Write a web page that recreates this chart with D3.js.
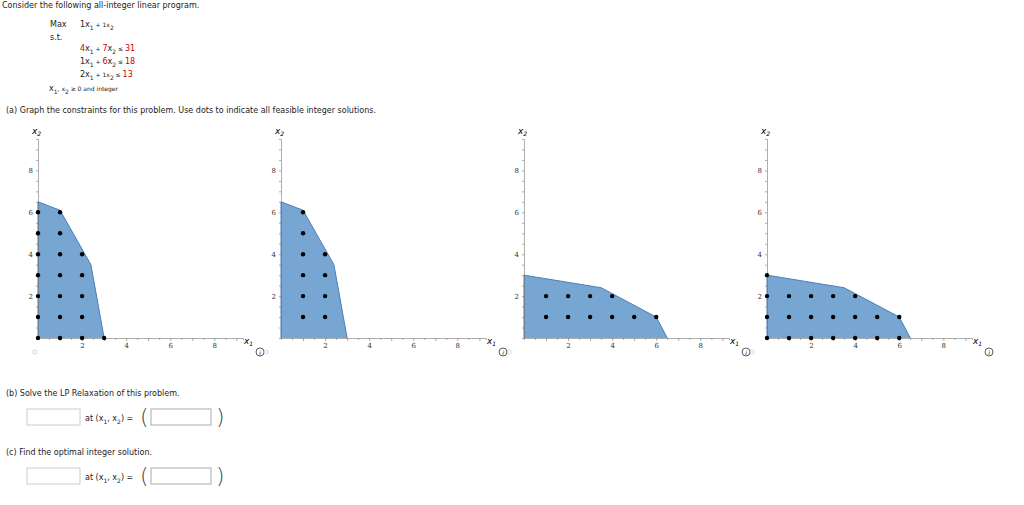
<!DOCTYPE html>
<html><head><meta charset="utf-8">
<script src="https://cdn.jsdelivr.net/npm/d3@7"></script>
<style>
body{margin:0;background:#fff;font-family:Verdana,"DejaVu Sans",sans-serif;}
svg text{font-family:"DejaVu Sans",Verdana,sans-serif;}
.tick text{font-family:"DejaVu Serif",serif;font-size:7px;fill:#333}
</style></head><body>
<svg id="c" width="1024" height="505"></svg>
<script>
// feasible regions (two shapes, drawn twice each)
const regionA = [[0,0],[0,6.5],[1,6.1],[2.4,3.5],[3,0]]
const regionB = [[0,0],[0,3],[3.5,2.4],[6,1],[6.5,0]]
const dots1 = [[0,0],[0,1],[0,2],[0,3],[0,4],[0,5],[0,6],[1,0],[1,1],[1,2],[1,3],[1,4],[1,5],[1,6],[2,0],[2,1],[2,2],[2,3],[2,4],[3,0]]
const dots2 = [[1,1],[1,2],[1,3],[1,4],[1,5],[1,6],[2,1],[2,2],[2,3],[2,4]]
const dots3 = [[1,1],[2,1],[3,1],[4,1],[5,1],[6,1],[1,2],[2,2],[3,2],[4,2]]
const dots4 = [[0,0],[1,0],[2,0],[3,0],[4,0],[5,0],[6,0],[0,1],[1,1],[2,1],[3,1],[4,1],[5,1],[6,1],[0,2],[1,2],[2,2],[3,2],[4,2],[0,3]]
const panels = [[regionA,dots1],[regionA,dots2],[regionB,dots3],[regionB,dots4]]
const xTicks = [2,4,6,8], yTicks = [2,4,6,8]

const svg = d3.select('#c')
const txt = (x,y,s,o={}) => svg.append('text').attr('x',x).attr('y',y).attr('font-size',o.size||8)
  .attr('fill',o.fill||'#222').text(s)

// problem statement
txt(2,8,'Consider the following all-integer linear program.')
const m = svg.append('text').attr('font-size',8).attr('fill','#222')
function row(y, parts) {
  const t = svg.append('text').attr('x',parts.x).attr('y',y).attr('font-size',8).attr('fill','#222')
  parts.items.forEach(p => {
    const s = t.append('tspan').text(p[0]).attr('fill',p[1]||'#222')
    if (p[2]) s.attr('dy',p[2]).attr('font-size',6)
  })
}
txt(50,27,'Max'); txt(50,40,'s.t.')
row(27,{x:80,items:[['1x'],['1','#222',3],[' + 1x','#222',-3],['2','#222',3]]})
row(51,{x:80,items:[['4','#c00'],['x'],['1','#222',3],[' + ','#222',-3],['7','#c00'],['x'],['2','#222',3],[' ≤ ','#222',-3],['31','#c00']]})
row(64,{x:80,items:[['1x'],['1','#222',3],[' + ','#222',-3],['6','#c00'],['x'],['2','#222',3],[' ≤ ','#222',-3],['18','#c00']]})
row(77,{x:80,items:[['2x'],['1','#222',3],[' + 1x','#222',-3],['2','#222',3],[' ≤ ','#222',-3],['13','#c00']]})
row(91,{x:49,items:[['x'],['1','#222',3],[', x','#222',-3],['2','#222',3],[' ≥ 0 and integer','#222',-3]]})
txt(6,113,'(a)  Graph the constraints for this problem. Use dots to indicate all feasible integer solutions.')

// panels
panels.forEach(([reg,dots],i) => {
  const ox = 38 + i*243
  const x = d3.scaleLinear().domain([0,9.3]).range([ox, ox+205])
  const y = d3.scaleLinear().domain([0,9.5]).range([338, 139])
  const g = svg.append('g')
  g.append('path').datum(reg).attr('fill','#77a6d3').attr('stroke','#4a7fb8').attr('stroke-width',1)
    .attr('d', d3.line().x(d=>x(d[0])).y(d=>y(d[1])))
  const xa = g.append('g').attr('transform',`translate(0,${y(0)})`)
    .call(d3.axisBottom(x).tickValues(d3.range(0.5,9.3,0.5)).tickSize(2).tickFormat(d=>xTicks.includes(d)?d:''))
  const ya = g.append('g').attr('transform',`translate(${x(0)},0)`)
    .call(d3.axisLeft(y).tickValues(d3.range(0.5,9.5,0.5)).tickSize(2).tickFormat(d=>yTicks.includes(d)?d:''))
  ;[xa,ya].forEach(a=>{a.selectAll('path,line').attr('stroke','#777').attr('stroke-width',0.6)})
  xa.selectAll('.tick line').attr('y2',d=>Number.isInteger(d)?3:2)
  g.selectAll('circle.pt').data(dots).join('circle').attr('cx',d=>x(d[0])).attr('cy',d=>y(d[1])).attr('r',2.2).attr('fill','#000')
  g.append('text').attr('x',ox-6).attr('y',134).attr('font-size',9).attr('font-style','italic')
    .attr('font-family','DejaVu Serif,serif').text('x').append('tspan').attr('font-size',6).attr('dy',2).text('2')
  g.append('text').attr('x',ox+206).attr('y',344).attr('font-size',9).attr('font-style','italic')
    .attr('font-family','DejaVu Serif,serif').text('x').append('tspan').attr('font-size',6).attr('dy',2).text('1')
  g.append('circle').attr('cx',ox+222).attr('cy',352).attr('r',4).attr('fill','none').attr('stroke','#333').attr('stroke-width',0.8)
  g.append('text').attr('x',ox+222).attr('y',355).attr('font-size',6).attr('text-anchor','middle').attr('font-style','italic').text('i')
  g.append('circle').attr('cx',ox-3+ (i?-12:0)).attr('cy',352).attr('r',2).attr('fill','none').attr('stroke','#bbb').attr('stroke-width',0.6)
})

// parts b and c
function answer(y0, label) {
  txt(6,y0,label)
  svg.append('rect').attr('x',27).attr('y',y0+13).attr('width',53).attr('height',16).attr('fill','#fff').attr('stroke','#ccc')
  const t = svg.append('text').attr('x',85).attr('y',y0+25).attr('font-size',8).attr('fill','#222')
  t.append('tspan').text('at (x'); t.append('tspan').attr('dy',3).attr('font-size',6).text('1')
  t.append('tspan').attr('dy',-3).text(', x'); t.append('tspan').attr('dy',3).attr('font-size',6).text('2')
  t.append('tspan').attr('dy',-3).text(') =')
  svg.append('text').attr('x',140).attr('y',y0+28).attr('font-size',22).attr('font-weight',200).attr('fill','#444').text('(')
  svg.append('rect').attr('x',151).attr('y',y0+13).attr('width',60).attr('height',16).attr('fill','#fff').attr('stroke','#aaa')
  svg.append('text').attr('x',216).attr('y',y0+28).attr('font-size',22).attr('font-weight',200).attr('fill','#444').text(')')
}
answer(396,'(b)  Solve the LP Relaxation of this problem.')
answer(455,'(c)  Find the optimal integer solution.')
</script></body></html>
